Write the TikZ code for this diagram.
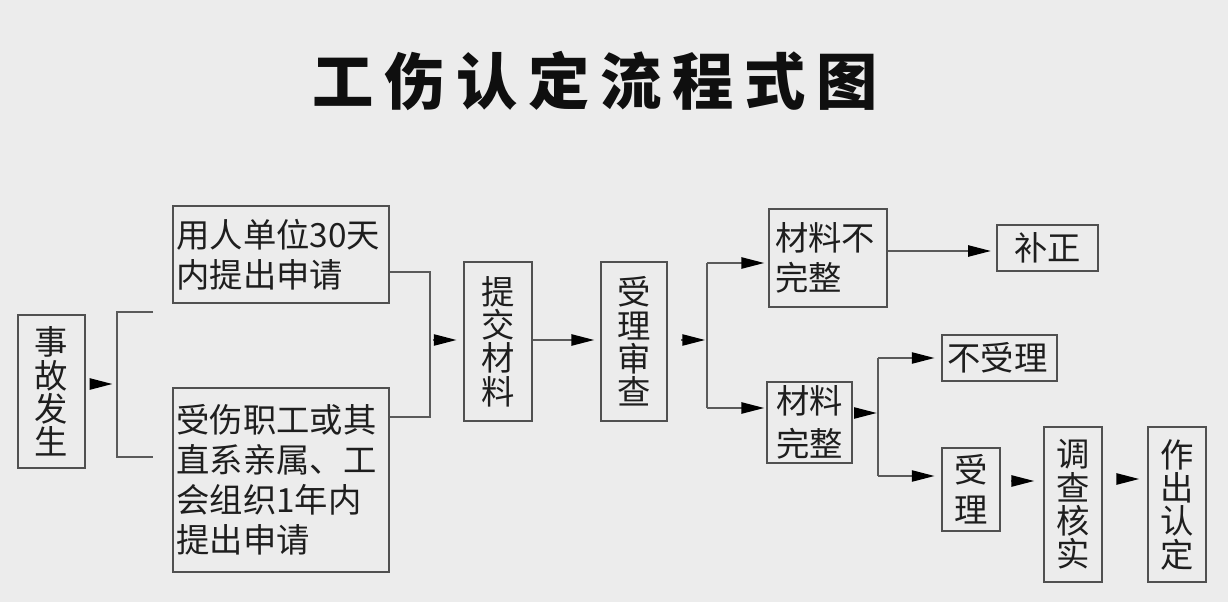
\documentclass[tikz,border=0pt]{standalone}
\usepackage{fontspec}
\newfontfamily\cjk{Noto Sans CJK SC}
\usetikzlibrary{arrows.meta}
\definecolor{bg}{RGB}{236,236,236}
\definecolor{boxc}{RGB}{80,80,80}
\definecolor{linec}{RGB}{90,90,90}
\definecolor{txt}{RGB}{30,30,30}
\definecolor{titlec}{RGB}{15,15,15}
\begin{document}
\begin{tikzpicture}[x=0.75pt,y=-0.75pt,
  box/.style={draw=boxc, line width=1.3pt, fill=bg, inner sep=0pt, text=txt,
    font=\cjk\fontsize{25}{30}\selectfont},
  hbox/.style={box, align=left},
  vbox/.style={box, align=center, font=\cjk\fontsize{25}{25}\selectfont},
  cbox/.style={box, align=center},
  ln/.style={draw=linec, line width=1pt},
  arr/.style={ln, -{Triangle[length=17pt,width=8.5pt,color=black]}}]
\fill[bg] (0,0) rectangle (1228,602);
% title
\node[font=\cjk\bfseries\fontsize{46}{46}\selectfont, text=titlec] (title) at (595,81)
  {工\hspace{8pt}伤\hspace{8pt}认\hspace{8pt}定\hspace{8pt}流\hspace{8pt}程\hspace{8pt}式\hspace{8pt}图};
% boxes
\node[vbox, minimum width=50.25pt, minimum height=114.75pt] (ev) at (51.5,391.5) {事\\故\\发\\生};
\node[hbox, text width=157pt, inner xsep=2.5pt, minimum height=72.75pt] (a1) at (281,254.5)
  {用人单位30天\\内提出申请};
\node[hbox, text width=157pt, inner xsep=2.5pt, minimum height=138pt] (a2) at (281,480)
  {受伤职工或其\\直系亲属、工\\会组织1年内\\提出申请\\[6pt]};
\node[vbox, minimum width=51pt, minimum height=119.25pt] (sub) at (498,341.5) {提\\交\\材\\料};
\node[vbox, minimum width=49.5pt, minimum height=119.25pt] (rev) at (634,341.5) {受\\理\\审\\查};
\node[hbox, text width=79.5pt, inner xsep=4.5pt, minimum height=73.5pt] (inc) at (828,258)
  {材料不\\完整};
\node[cbox, minimum width=75.75pt, minimum height=34.5pt] (fix) at (1047.5,248) {补正};
\node[cbox, minimum width=63.75pt, minimum height=60.75pt, font=\cjk\fontsize{25}{32}\selectfont] (com) at (809.5,422.5)
  {材料\\完整};
\node[hbox, text width=78.25pt, inner xsep=4pt, minimum height=34.5pt] (rej) at (999.5,358) {不受理};
\node[vbox, minimum width=43.5pt, minimum height=62.25pt, font=\cjk\fontsize{25}{30}\selectfont] (acc) at (971,489.5) {受\\理};
\node[vbox, minimum width=43.5pt, minimum height=116.25pt] (inv) at (1073,504.5) {调\\查\\核\\实};
\node[vbox, minimum width=43.5pt, minimum height=116.25pt] (dec) at (1177,504.5) {作\\出\\认\\定};
% bracket after accident
\coordinate (b1) at (117,384);
\coordinate (bt) at (117,312); \coordinate (bte) at (153,312);
\coordinate (bb) at (117,457); \coordinate (bbe) at (153,457);
\draw[ln] (bte) -- (bt) -- (bb) -- (bbe);
\draw[arr, shorten <=5pt, shorten >=3.5pt] (ev.east|-b1) -- (b1);
% join of applications
\coordinate (j1) at (430,272); \coordinate (j2) at (430,417); \coordinate (jm) at (430,340);
\draw[ln] (a1.east|-j1) -- (j1) -- (j2) -- (a2.east|-j2);
\draw[arr, shorten <=2pt, shorten >=5pt] (jm) -- (sub.west|-jm);
\draw[arr, shorten >=4.5pt] (sub.east|-jm) -- (rev.west|-jm);
% split after review
\coordinate (s1) at (707,340); \coordinate (s1t) at (707,263); \coordinate (s1b) at (707,408);
\draw[arr, shorten <=10pt, shorten >=1.5pt] (rev.east|-s1) -- (s1);
\draw[ln] (s1t) -- (s1b);
\draw[arr, shorten >=3pt] (s1t) -- (inc.west|-s1t);
\draw[arr, shorten >=1.5pt] (s1b) -- (com.west|-s1b);
\coordinate (f1) at (940,251);
\draw[arr, shorten >=4pt] (inc.east|-f1) -- (fix.west|-f1);
% split after complete
\coordinate (s2) at (878,413); \coordinate (s2t) at (878,358); \coordinate (s2b) at (878,476);
\draw[arr, shorten <=4.5pt, shorten >=1pt] (com.east|-s2) -- (s2);
\draw[ln] (s2t) -- (s2b);
\draw[arr, shorten >=5pt] (s2t) -- (rej.west|-s2t);
\draw[arr, shorten >=5pt] (s2b) -- (acc.west|-s2b);
\coordinate (y1) at (1020,481); \coordinate (y2) at (1125,479);
\draw[arr, shorten <=7.5pt, shorten >=6.75pt] (acc.east|-y1) -- (inv.west|-y1);
\draw[arr, shorten <=12pt, shorten >=6pt] (inv.east|-y2) -- (dec.west|-y2);
\end{tikzpicture}
\end{document}
